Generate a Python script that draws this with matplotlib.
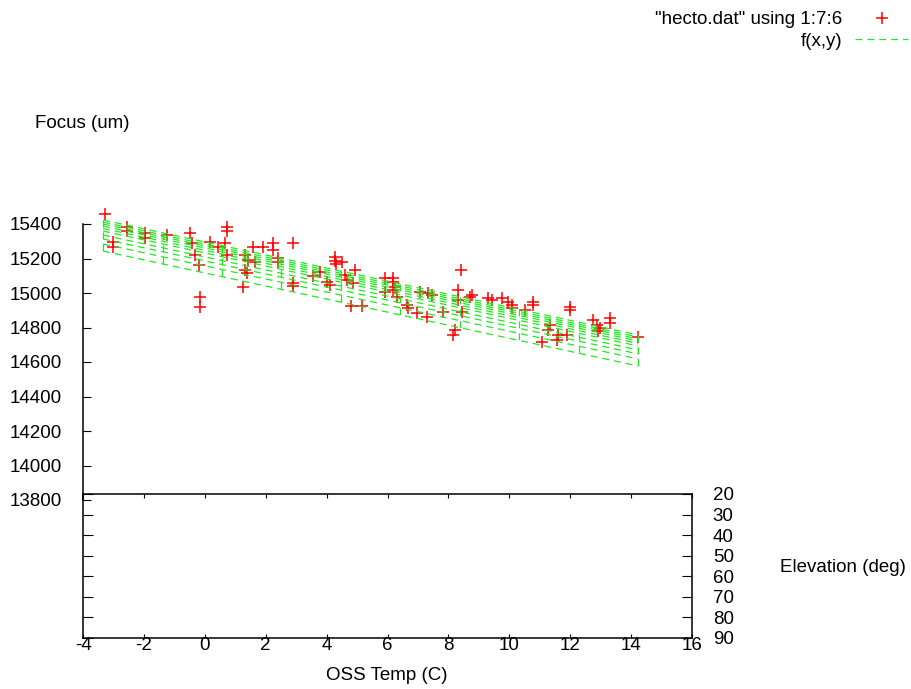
import matplotlib
matplotlib.use('Agg')
import matplotlib.pyplot as plt
import numpy as np

plt.rcParams['font.family'] = ['Liberation Sans', 'DejaVu Sans']
plt.rcParams['axes.unicode_minus'] = False

# data points as they appear on the plot (OSS temp in C, focus in um)
temp = [-3.28, -3.01, -3.01, -2.56, -2.56, -1.96, -1.96, -1.24, -0.49, -0.42,
        -0.32, -0.19, -0.16, -0.16, 0.17, 0.43, 0.73, 0.73, 0.66, 0.73,
        1.25, 1.32, 1.42, 1.32, 1.39, 1.58, 1.65, 1.91, 2.24, 2.24,
        2.40, 2.40, 2.90, 2.90, 2.90, 3.55, 3.78, 4.01, 4.11, 4.28,
        4.28, 4.31, 4.51, 4.60, 4.67, 4.93, 4.87, 4.80, 5.16, 5.92,
        5.92, 6.18, 6.18, 6.25, 6.18, 6.31, 6.64, 6.67, 6.97, 7.07,
        7.33, 7.46, 7.30, 7.82, 8.41, 8.32, 8.32, 8.45, 8.22, 8.15,
        8.71, 8.78, 9.30, 9.43, 9.76, 9.96, 10.09, 10.09, 10.78, 10.78,
        10.52, 11.99, 11.99, 11.34, 11.27, 11.07, 11.57, 11.60, 11.90, 12.75,
        12.88, 12.91, 12.98, 13.31, 13.31, 14.23]
focus = [15458, 15296, 15267, 15383, 15359, 15348, 15319, 15336, 15348, 15290,
         15220, 15162, 14977, 14919, 15296, 15267, 15383, 15359, 15290, 15220,
         15035, 15220, 15191, 15133, 15116, 15267, 15180, 15267, 15290, 15249,
         15203, 15180, 15290, 15058, 15041, 15099, 15122, 15064, 15046, 15209,
         15186, 15168, 15180, 15104, 15075, 15133, 15058, 14925, 14925, 15087,
         15006, 15087, 15064, 15035, 15017, 14977, 14930, 14913, 14884, 15006,
         15000, 14988, 14861, 14890, 15133, 15017, 14959, 14890, 14785, 14757,
         14977, 14988, 14971, 14959, 14971, 14948, 14930, 14913, 14948, 14930,
         14901, 14919, 14901, 14814, 14785, 14716, 14728, 14757, 14757, 14843,
         14814, 14780, 14797, 14855, 14826, 14745]

# fitted surface f(x,y): ends of the top isoline and drop of each elevation isoline
surf_temp = [-3.34, 14.23]
surf_top = [15423, 14757]
surf_drop = [0, 12, 23, 35, 49, 64, 87, 110, 139, 180]
n_xsamples = 10

temp_ticks = list(range(-4, 17, 2))
focus_ticks = list(range(13800, 15401, 200))
elev_ticks = list(range(20, 91, 10))

W, H = 912, 689
fig = plt.figure(figsize=(W / 100, H / 100), dpi=100)
FS = 13.5


def box(x0, y0, x1, y1):
    return [x0 / W, 1 - y1 / H, (x1 - x0) / W, (y1 - y0) / H]


def fx(px):
    return px / W


def fy(py):
    return 1 - py / H


# base plane: temperature vs elevation
base = fig.add_axes(box(83, 494, 692, 638))
base.set_xlim(-4, 16)
base.set_ylim(90, 20)
base.set_xticks(temp_ticks)
base.set_yticks(elev_ticks)
base.tick_params(axis='x', direction='in', length=3, top=True, bottom=True,
                 labelsize=FS, pad=-1)
base.tick_params(axis='y', direction='in', length=7, left=True, right=True,
                 labelleft=False, labelright=True, labelsize=FS, pad=15)
for s in base.spines.values():
    s.set_linewidth(1.1)

# focus axis and the data above the base
ax = fig.add_axes(box(83, 224, 692, 500))
ax.set_xlim(-4, 16)
ax.set_ylim(13800, 15400)
ax.patch.set_visible(False)
for k in ['top', 'right', 'bottom']:
    ax.spines[k].set_visible(False)
ax.spines['left'].set_linewidth(1.1)
ax.set_xticks([])
ax.set_yticks(focus_ticks)
ax.tick_params(axis='y', direction='in', length=6, labelsize=FS, pad=15)

green = '#22e622'
pts, = ax.plot(temp, focus, '+', color='red', ms=9, mew=1.1, clip_on=False,
               zorder=2)
mesh = None
for d in surf_drop:
    ln, = ax.plot(surf_temp, [t - d for t in surf_top], color=green, lw=0.9,
                  dashes=(5.5, 4), clip_on=False, zorder=3)
    mesh = mesh or ln
xs = np.linspace(surf_temp[0], surf_temp[1], n_xsamples)
tops = np.interp(xs, surf_temp, surf_top)
for x, t in zip(xs, tops):
    ax.plot([x, x], [t - surf_drop[0], t - surf_drop[-1]], color=green, lw=0.9,
            dashes=(5.5, 4), clip_on=False, zorder=3)

fig.text(fx(82), fy(123), 'Focus (um)', fontsize=FS, ha='center', va='center')
fig.text(fx(387), fy(675), 'OSS Temp (C)', fontsize=FS, ha='center',
         va='center')
fig.text(fx(780), fy(567), 'Elevation (deg)', fontsize=FS, ha='left',
         va='center')

fig.legend([pts, mesh], ['"hecto.dat" using 1:7:6', 'f(x,y)'],
           loc='upper right', bbox_to_anchor=(fx(908), fy(11)),
           markerfirst=False, frameon=False, fontsize=FS, handlelength=2.8,
           handletextpad=0.7, labelspacing=0.25, borderpad=0, borderaxespad=0)

fig.savefig('out.png', dpi=100)
